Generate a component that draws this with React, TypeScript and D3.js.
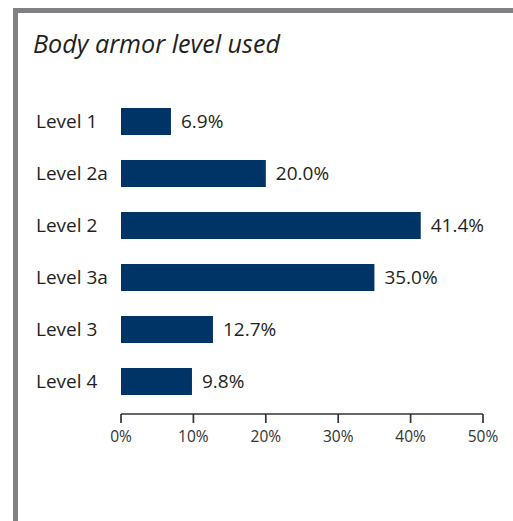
import React from "react";
import * as d3 from "d3";

const categories = ["Level 1", "Level 2a", "Level 2", "Level 3a", "Level 3", "Level 4"];
const values = [6.9, 20.0, 41.4, 35.0, 12.7, 9.8];
const ticks = [0, 10, 20, 30, 40, 50];
const title = "Body armor level used";

const W = 513;
const H = 521;
const FONT = "'Open Sans', 'Noto Sans', sans-serif";

export default function App() {
  const x = d3.scaleLinear().domain([0, 50]).range([121, 483]);
  const bw = 27;
  const step = 52;
  const y0 = d3.scaleLinear().domain([0, categories.length - 1]).range([108, 108 + step * 5]);
  return (
    <svg width={W} height={H} style={{ position: "absolute", left: 0, top: 0 }}>
      <rect x={0} y={0} width={W} height={H} fill="#fff" />
      <rect x={13} y={8} width={W - 13} height={5} fill="#808085" />
      <rect x={13} y={8} width={5} height={H - 8} fill="#808085" />
      <text x={33} y={53} fontFamily={FONT} fontStyle="italic" fontSize={25} fill="#231f20" textLength={247} lengthAdjust="spacingAndGlyphs">{title}</text>
      {categories.map((c, i) => {
        const yy = y0(i);
        return (
          <g key={c}>
            <text x={36} y={yy + bw / 2} dy="0.35em" fontFamily={FONT} fontSize={19} fill="#231f20">{c}</text>
            <rect x={x(0)} y={yy} width={x(values[i]) - x(0)} height={bw} fill="#003366" />
            <text x={x(values[i]) + 10} y={yy + bw / 2} dy="0.35em" fontFamily={FONT} fontSize={19} fill="#231f20">{values[i].toFixed(1)}%</text>
          </g>
        );
      })}
      <line x1={x(0)} x2={x(50)} y1={414} y2={414} stroke="#333" strokeWidth={1.7} />
      {ticks.map((t) => (
        <g key={t}>
          <line x1={x(t)} x2={x(t)} y1={414} y2={423} stroke="#333" strokeWidth={1.7} />
          <text x={x(t)} y={442} textAnchor="middle" fontFamily={FONT} fontSize={15.5} fill="#333">{t}%</text>
        </g>
      ))}
    </svg>
  );
}
